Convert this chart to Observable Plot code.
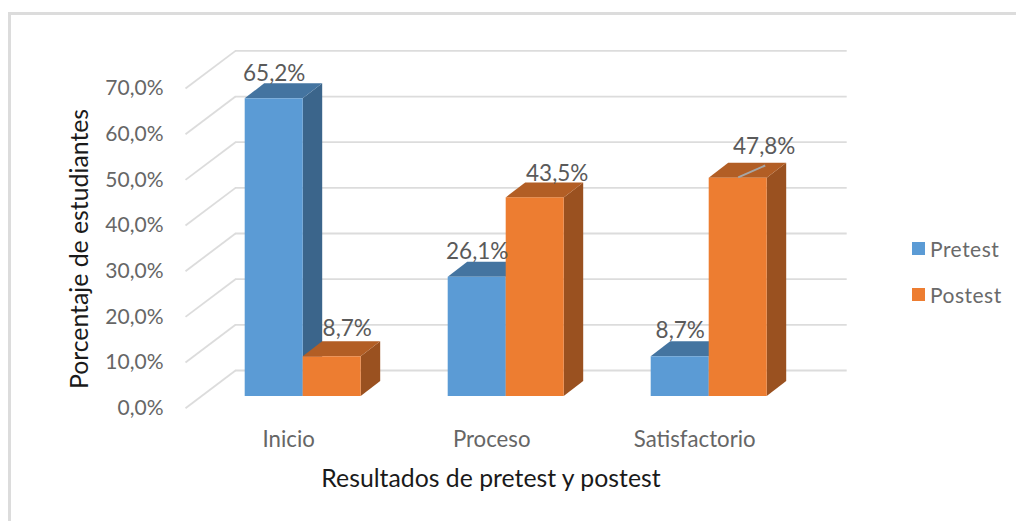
<!DOCTYPE html>
<html><head><meta charset="utf-8">
<script src="https://cdn.jsdelivr.net/npm/d3@7"></script>
<script src="https://cdn.jsdelivr.net/npm/@observablehq/plot@0.6"></script>
<style>
html,body{margin:0;padding:0;background:#fff;overflow:hidden}
#wrap{position:relative;width:1016px;height:521px}
#frame{position:absolute;left:8px;top:12px;right:0;bottom:0;border-top:3px solid #dcdcdc;border-left:3px solid #dcdcdc}
#chart{position:absolute;left:0;top:0}
svg{display:block;background:transparent!important}
.lg{position:absolute;left:912px;font:21px Lato,sans-serif;color:#6a6a6a;display:flex;align-items:center;letter-spacing:.5px}
.lg i{display:block;width:13px;height:13px;margin-right:5px}
</style></head><body>
<div id="wrap"><div id="frame"></div><div id="chart"></div>
<div class="lg" style="top:236px"><i style="background:#5b9bd5"></i>Pretest</div>
<div class="lg" style="top:282px"><i style="background:#ed7d31"></i>Postest</div>
</div>
<script>
const categories = ["Inicio","Proceso","Satisfactorio"];
const pretest = [65.2,26.1,8.7];
const postest = [8.7,43.5,47.8];
const yTicks = [0,10,20,30,40,50,60,70];
const xAxisTitle = "Resultados de pretest y postest";
const yAxisTitle = "Porcentaje de estudiantes";

const fmt = v => v.toFixed(1).replace(".",",")+"%";
const W=1016,H=521;
const pxPerGroup=203, pxPerPct=4.566, x0px=302.7, y0px=396;
const xDomain=[(0-x0px)/pxPerGroup,(W-x0px)/pxPerGroup];
const yDomain=[(y0px-H)/pxPerPct,y0px/pxPerPct];
const barW=1/3.5, depthX=19.5/pxPerGroup, depthY=15/pxPerPct;
const wallDy=26/pxPerPct, frontDy=-11.7/pxPerPct;
const wallL=(235-x0px)/pxPerGroup, frontL=(185-x0px)/pxPerGroup, wallR=(846.7-x0px)/pxPerGroup;
const font="Lato, sans-serif", grey="#666666";

function bar(i,v,offset,front,top,side){
  const a=i+offset*barW,b=a+barW;
  return [
    Plot.areaY([{x:b,y1:0,y2:v},{x:b+depthX,y1:depthY,y2:v+depthY}],{x:"x",y1:"y1",y2:"y2",fill:side}),
    Plot.areaX([{y:v,x1:a,x2:b},{y:v+depthY,x1:a+depthX,x2:b+depthX}],{y:"y",x1:"x1",x2:"x2",fill:top}),
    Plot.rect([{a,b,v}],{x1:"a",x2:"b",y1:0,y2:"v",fill:front})
  ];
}
function label(i,v,offset,dx,dy){
  return Plot.text([{x:i+(offset+.5)*barW,y:v,t:fmt(v)}],{x:"x",y:"y",text:"t",dx,dy,fontSize:22.5,fontFamily:font,fill:"#5a5a5a"});
}
const bars=categories.flatMap((c,i)=>[
  ...bar(i,pretest[i],-1,"#5b9bd5","#4474a0","#3b658b"),
  ...bar(i,postest[i],0,"#ed7d31","#b25e25","#9a5120")
]);
const pn=[[0,-25],[0,-26],[0,-26]], on=[[15,-28],[22,-24],[26,-31]];
const labels=categories.flatMap((c,i)=>[
  label(i,pretest[i],-1,pn[i][0],pn[i][1]),
  label(i,postest[i],0,on[i][0],on[i][1])
]);

const plot=Plot.plot({
  width:W,height:H,margin:0,
  x:{domain:xDomain,range:[0,W],axis:null},
  y:{domain:yDomain,range:[H,0],axis:null},
  marks:[
    Plot.ruleY(yTicks,{y:v=>v+wallDy,x1:wallL,x2:wallR,stroke:"#dcdcdc",strokeWidth:1.8}),
    Plot.link(yTicks,{x1:frontL,y1:v=>v+frontDy,x2:wallL,y2:v=>v+wallDy,stroke:"#dcdcdc",strokeWidth:1.8}),
    Plot.text(yTicks,{x:frontL,y:v=>v+frontDy,text:fmt,dx:-22,textAnchor:"end",fontSize:21,fontFamily:font,fill:grey}),
    ...bars,
    ...labels,
    Plot.link([2],{x1:i=>i+.5*barW,y1:postest[2]+.2,x2:i=>i+.5*barW+27/pxPerGroup,y2:postest[2]+2.8,stroke:"#a6a6a6",strokeWidth:2}),
    Plot.text(categories,{x:(c,i)=>i,y:0,text:d=>d,dx:-14.5,dy:43,fontSize:22.2,fontFamily:font,fill:grey}),
    Plot.text([xAxisTitle],{x:.925,y:0,text:d=>d,dy:83,fontSize:24.8,fontFamily:font,fill:"#1a1a1a"}),
    Plot.text([yAxisTitle],{x:frontL,y:32.3,text:d=>d,dx:-105,rotate:-90,fontSize:24.8,fontFamily:font,fill:"#1a1a1a"})
  ]
});
document.getElementById("chart").append(plot);
</script>
</body></html>
